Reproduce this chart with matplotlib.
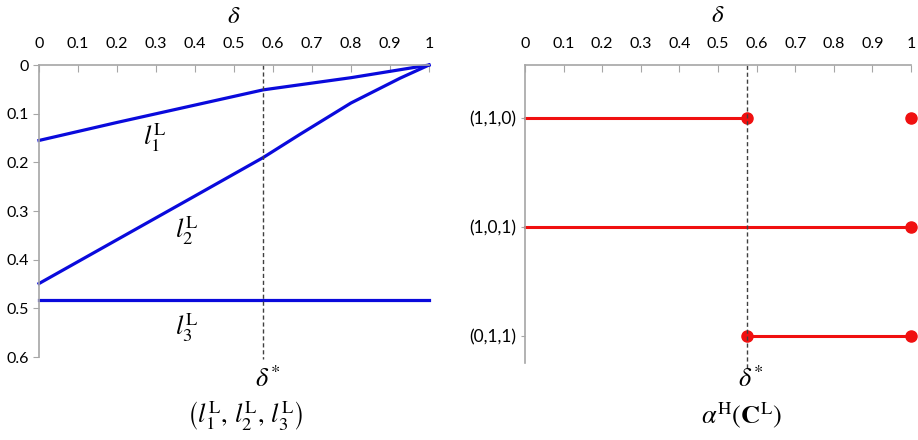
import matplotlib.pyplot as plt
import numpy as np

plt.rcParams['font.family'] = ['Lato', 'DejaVu Sans']
plt.rcParams['mathtext.fontset'] = 'stix'

delta_star = 0.575
x_ticks = [0, 0.1, 0.2, 0.3, 0.4, 0.5, 0.6, 0.7, 0.8, 0.9, 1]
x_ticklabels = ['0', '0.1', '0.2', '0.3', '0.4', '0.5', '0.6', '0.7', '0.8', '0.9', '1']
y_ticks = [0, 0.1, 0.2, 0.3, 0.4, 0.5, 0.6]
y_ticklabels = ['0', '0.1', '0.2', '0.3', '0.4', '0.5', '0.6']

# left panel curves
l1_x = [0, 0.2, 0.575, 0.8, 1.0]
l1_y = [0.155, 0.118, 0.051, 0.026, 0.0]
l2_x = [0, 0.2, 0.4, 0.575, 0.67, 0.8, 0.926, 1.0]
l2_y = [0.449, 0.359, 0.269, 0.19, 0.142, 0.078, 0.027, 0.0]
l3_x = [0, 1.0]
l3_y = [0.482, 0.482]

# right panel categories
categories = ['(1,1,0)', '(1,0,1)', '(0,1,1)']
cat_pos = [3, 2, 1]
seg_110 = [0, 0.575]
seg_101 = [0, 1.0]
seg_011 = [0.575, 1.0]
dots_110 = [0.575, 1.0]
dots_101 = [1.0]
dots_011 = [0.575, 1.0]

blue = '#0A0ADC'
red = '#F01010'
gray = '#A6A6A6'

fig = plt.figure(figsize=(9.18, 4.4), dpi=100)

def style_axes(ax, title_y):
    ax.xaxis.tick_top()
    ax.set_xlim(0, 1)
    ax.set_xticks(x_ticks)
    ax.set_xticklabels(x_ticklabels)
    ax.tick_params(axis='x', direction='in', length=5, color=gray, labelsize=11.5, pad=10)
    ax.tick_params(axis='y', direction='out', length=4, color=gray, labelsize=11.5)
    for s in ['right', 'bottom']:
        ax.spines[s].set_visible(False)
    for s in ['top', 'left']:
        ax.spines[s].set_color(gray)
        ax.spines[s].set_linewidth(1.2)
    ax.text(0.5, title_y, r'$\delta$', transform=ax.transAxes, ha='center', va='center',
            fontsize=18)

# left panel
ax1 = fig.add_axes([0.0425, 0.1886, 0.4248, 0.6636])
style_axes(ax1, 1.17)
ax1.set_ylim(0.6, 0)
ax1.set_yticks(y_ticks)
ax1.set_yticklabels(y_ticklabels)
ax1.plot(l1_x, l1_y, color=blue, lw=2.3, clip_on=False)
ax1.plot(l2_x, l2_y, color=blue, lw=2.3, clip_on=False)
ax1.plot(l3_x, l3_y, color=blue, lw=2.3, clip_on=False)
ax1.plot([delta_star, delta_star], [0, 0.605], color='#404040', lw=1, ls=(0, (3, 2)), clip_on=False)
ax1.text(0.297, 0.15, r'$l_1^{\mathrm{L}}$', fontsize=19, ha='center', va='center')
ax1.text(0.378, 0.34, r'$l_2^{\mathrm{L}}$', fontsize=19, ha='center', va='center')
ax1.text(0.378, 0.54, r'$l_3^{\mathrm{L}}$', fontsize=19, ha='center', va='center')
ax1.text(delta_star + 0.01, 0.645, r'$\delta^{*}$', fontsize=19, ha='center', va='center')
ax1.text(0.53, 0.72, r'$\left(l_1^{\mathrm{L}},\, l_2^{\mathrm{L}},\, l_3^{\mathrm{L}}\right)$',
         fontsize=19, ha='center', va='center')

# right panel
ax2 = fig.add_axes([0.5719, 0.175, 0.4205, 0.6773])
style_axes(ax2, 1.168)
ax2.set_ylim(0.75, 3.49)
ax2.set_yticks(cat_pos)
ax2.set_yticklabels(categories)
ax2.tick_params(axis='y', length=3, labelsize=12.5)
ax2.plot(seg_110, [cat_pos[0]] * 2, color=red, lw=2.2, clip_on=False)
ax2.plot(seg_101, [cat_pos[1]] * 2, color=red, lw=2.2, clip_on=False)
ax2.plot(seg_011, [cat_pos[2]] * 2, color=red, lw=2.2, clip_on=False)
ax2.plot(dots_110, [cat_pos[0]] * len(dots_110), 'o', color=red, ms=8, clip_on=False)
ax2.plot(dots_101, [cat_pos[1]] * len(dots_101), 'o', color=red, ms=8, clip_on=False)
ax2.plot(dots_011, [cat_pos[2]] * len(dots_011), 'o', color=red, ms=8, clip_on=False)
ax2.plot([delta_star, delta_star], [0.7, 3.49], color='#404040', lw=1, ls=(0, (3, 2)), clip_on=False)
ax2.text(delta_star + 0.01, 0.6, r'$\delta^{*}$', fontsize=19, ha='center', va='center')
ax2.text(0.56, 0.27, r'$\alpha^{\mathrm{H}}\left(\mathbf{C}^{\mathrm{L}}\right)$',
         fontsize=19, ha='center', va='center')

fig.savefig('out.png', dpi=100)
